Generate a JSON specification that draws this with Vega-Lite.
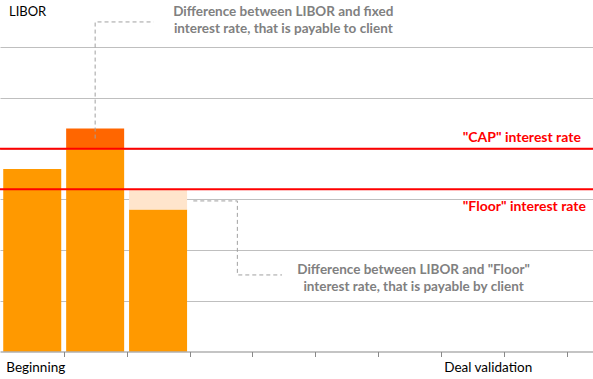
{
  "$schema": "https://vega.github.io/schema/vega-lite/v6.json",
  "width": 593,
  "height": 351.5,
  "autosize": {"type": "none"},
  "padding": {"top": 0, "left": 0, "right": 0, "bottom": 27.5},
  "background": "white",
  "config": {"view": {"stroke": null}, "font": "Lato"},
  "datasets": {
    "bars": [
      {"p": 1, "part": "base", "v0": 0, "v1": 3.6},
      {"p": 2, "part": "base", "v0": 0, "v1": 4.0},
      {"p": 2, "part": "over", "v0": 4.0, "v1": 4.4},
      {"p": 3, "part": "base", "v0": 0, "v1": 2.8},
      {"p": 3, "part": "under", "v0": 2.8, "v1": 3.2}
    ],
    "rates": [
      {"name": "\"CAP\" interest rate", "v": 4.0, "p": 9.72, "lv": 4.21},
      {"name": "\"Floor\" interest rate", "v": 3.2, "p": 9.8, "lv": 2.85}
    ],
    "connectors": [
      {"g": "top", "i": 1, "p": 2.0, "v": 4.2},
      {"g": "top", "i": 2, "p": 2.0, "v": 6.5},
      {"g": "top", "i": 3, "p": 2.93, "v": 6.5},
      {"g": "bottom", "i": 1, "p": 3.56, "v": 2.97},
      {"g": "bottom", "i": 2, "p": 4.26, "v": 2.97},
      {"g": "bottom", "i": 3, "p": 4.26, "v": 1.51},
      {"g": "bottom", "i": 4, "p": 4.97, "v": 1.51}
    ],
    "notes": [
      {"text": "Difference between LIBOR and fixed", "p": 4.99, "v": 6.7},
      {"text": "interest rate, that is payable to client", "p": 4.99, "v": 6.36},
      {"text": "Difference between LIBOR and \"Floor\"", "p": 7.06, "v": 1.607},
      {"text": "interest rate, that is payable by client", "p": 7.06, "v": 1.272}
    ],
    "title": [
      {"text": "LIBOR", "p": 0.63, "v": 6.7}
    ]
  },
  "layer": [
    {
      "data": {"name": "bars"},
      "mark": {"type": "bar", "width": 58},
      "encoding": {
        "x": {
          "field": "p", "type": "quantitative",
          "scale": {"domain": [0.5672, 9.833], "nice": false, "zero": false},
          "axis": {
            "title": null,
            "values": [1.5, 2.5, 3.5, 4.5, 5.5, 6.5, 7.5, 8.5, 9.5],
            "labelExpr": "datum.value == 1.5 ? 'Beginning' : (datum.value == 7.5 ? 'Deal validation' : '')",
            "labelAlign": {"expr": "datum.value == 1.5 ? 'right' : 'left'"},
            "labelOffset": {"expr": "datum.value == 1.5 ? 1 : 2.5"},
            "labelOverlap": false,
            "labelBound": false,
            "labelFlush": false,
            "labelFont": "Lato",
            "labelFontSize": 13.5,
            "labelColor": "#000000",
            "labelPadding": 4,
            "grid": false,
            "domainColor": "#898989",
            "tickColor": "#898989",
            "tickSize": 5,
            "zindex": 1
          }
        },
        "y": {
          "field": "v0", "type": "quantitative",
          "scale": {"domain": [0, 6.933], "nice": false, "zero": false},
          "axis": {
            "title": null,
            "values": [1, 2, 3, 4, 5, 6],
            "grid": true,
            "gridColor": "#BFBFBF",
            "gridWidth": 1,
            "domain": false,
            "ticks": false,
            "labels": false
          }
        },
        "y2": {"field": "v1"},
        "color": {
          "field": "part", "type": "nominal",
          "scale": {"domain": ["base", "over", "under"], "range": ["#FF9900", "#FF6600", "#FFE5CC"]},
          "legend": null
        }
      }
    },
    {
      "data": {"name": "rates"},
      "mark": {"type": "rule", "color": "#FF0000", "strokeWidth": 2},
      "encoding": {"y": {"field": "v", "type": "quantitative"}}
    },
    {
      "data": {"name": "rates"},
      "mark": {"type": "text", "align": "right", "baseline": "middle", "font": "Lato", "fontSize": 14, "fontWeight": "bold", "color": "#FF0000"},
      "encoding": {
        "x": {"field": "p", "type": "quantitative"},
        "y": {"field": "lv", "type": "quantitative"},
        "text": {"field": "name"}
      }
    },
    {
      "data": {"name": "connectors"},
      "mark": {"type": "line", "color": "#A0A0A0", "strokeWidth": 1, "strokeDash": [4, 3], "interpolate": "linear"},
      "encoding": {
        "x": {"field": "p", "type": "quantitative"},
        "y": {"field": "v", "type": "quantitative"},
        "detail": {"field": "g"},
        "order": {"field": "i"}
      }
    },
    {
      "data": {"name": "notes"},
      "mark": {"type": "text", "align": "center", "baseline": "middle", "font": "Lato", "fontSize": 13.5, "fontWeight": "bold", "color": "#808080"},
      "encoding": {
        "x": {"field": "p", "type": "quantitative"},
        "y": {"field": "v", "type": "quantitative"},
        "text": {"field": "text"}
      }
    },
    {
      "data": {"name": "title"},
      "mark": {"type": "text", "align": "left", "baseline": "middle", "font": "Lato", "fontSize": 13, "color": "#000000"},
      "encoding": {
        "x": {"field": "p", "type": "quantitative"},
        "y": {"field": "v", "type": "quantitative"},
        "text": {"field": "text"}
      }
    }
  ]
}
